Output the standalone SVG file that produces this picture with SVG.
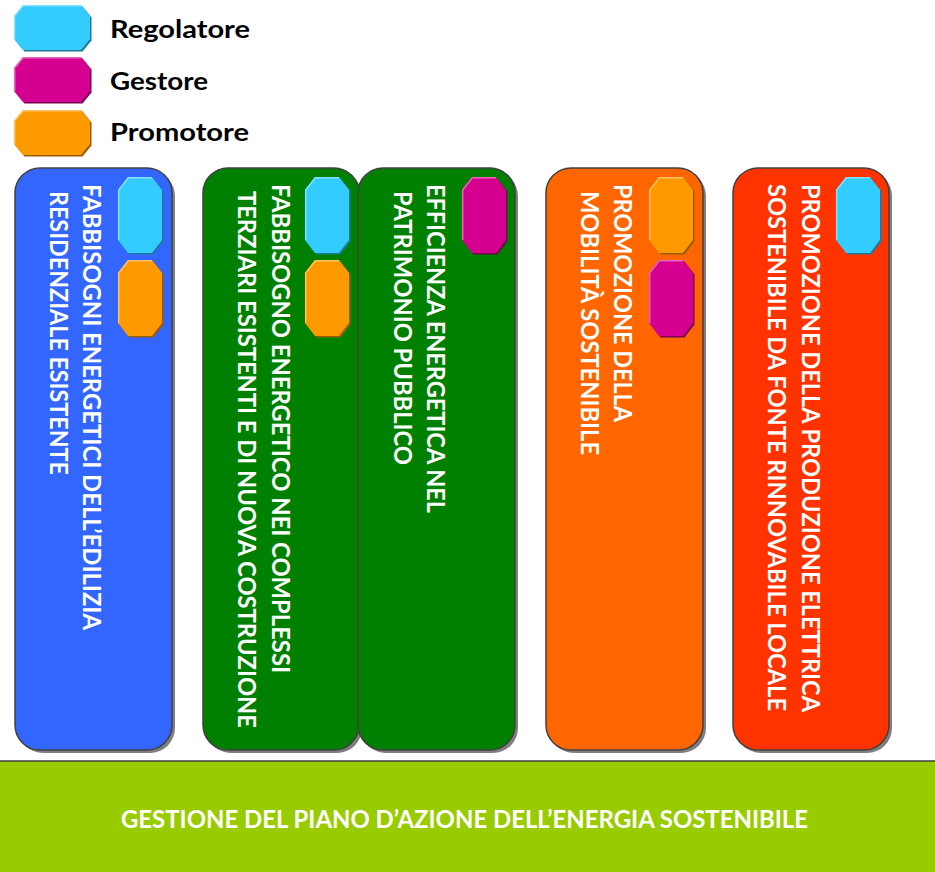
<svg xmlns="http://www.w3.org/2000/svg" xmlns:xlink="http://www.w3.org/1999/xlink" width="935" height="872" viewBox="0 0 935 872">
<style>
.card{stroke:#404040;stroke-width:1.5}
.shadow{fill:#7f7f7f}
.ct{font-family:Lato,"Open Sans","Liberation Sans",sans-serif;font-weight:bold;font-size:25px;fill:#ffffff}
.lg{font-family:Lato,"Open Sans","Liberation Sans",sans-serif;font-weight:bold;font-size:25px;fill:#000000}
.bt{font-family:Lato,"Open Sans","Liberation Sans",sans-serif;font-weight:bold;font-size:25px;fill:#ffffff}
</style>
<defs>
<polygon id="ov" points="10,0 34,0 44,13 44,63 34,76 10,76 0,63 0,13"/>
<polyline id="ovh" points="0.7,63 0.7,13 10.3,0.7 34,0.7" fill="none" stroke-width="1.5"/>
<polygon id="oh" points="9,0 67,0 76,11 76,34 67,45 9,45 0,34 0,11"/>
<polyline id="ohh" points="0.7,34 0.7,11 9.3,0.7 67,0.7" fill="none" stroke-width="1.5"/>
<g id="v-cyan"><use xlink:href="#ov" x="1.5" y="1.5" fill="#1f7a99"/><use xlink:href="#ov" fill="#33ccff"/><use xlink:href="#ovh" stroke="#85e0ff"/></g>
<g id="v-mag"><use xlink:href="#ov" x="1.5" y="1.5" fill="#7a0054"/><use xlink:href="#ov" fill="#d5008f"/><use xlink:href="#ovh" stroke="#e866bc"/></g>
<g id="v-ora"><use xlink:href="#ov" x="1.5" y="1.5" fill="#995c00"/><use xlink:href="#ov" fill="#ff9900"/><use xlink:href="#ovh" stroke="#ffc266"/></g>
<g id="h-cyan"><use xlink:href="#oh" x="1.5" y="1.5" fill="#1f7a99"/><use xlink:href="#oh" fill="#33ccff"/><use xlink:href="#ohh" stroke="#85e0ff"/></g>
<g id="h-mag"><use xlink:href="#oh" x="1.5" y="1.5" fill="#7a0054"/><use xlink:href="#oh" fill="#d5008f"/><use xlink:href="#ohh" stroke="#e866bc"/></g>
<g id="h-ora"><use xlink:href="#oh" x="1.5" y="1.5" fill="#995c00"/><use xlink:href="#oh" fill="#ff9900"/><use xlink:href="#ohh" stroke="#ffc266"/></g>
</defs>
<rect width="935" height="872" fill="#ffffff"/>

<g id="legend">
<g id="legend-regolatore"><use xlink:href="#h-cyan" x="14" y="5"/><text class="lg" x="110" y="38" textLength="140" lengthAdjust="spacingAndGlyphs">Regolatore</text></g>
<g id="legend-gestore"><use xlink:href="#h-mag" x="14" y="57"/><text class="lg" x="110" y="90" textLength="98" lengthAdjust="spacingAndGlyphs">Gestore</text></g>
<g id="legend-promotore"><use xlink:href="#h-ora" x="14" y="110"/><text class="lg" x="110" y="141" textLength="139" lengthAdjust="spacingAndGlyphs">Promotore</text></g>
</g>

<g id="card-residenziale">
<rect class="shadow" x="18" y="171" width="157" height="582" rx="25"/>
<rect class="card" x="15" y="168" width="157" height="582" rx="25" fill="#3366ff"/>
<text class="ct" transform="translate(83,184) rotate(90)" textLength="446" lengthAdjust="spacingAndGlyphs">FABBISOGNI ENERGETICI DELL’EDILIZIA</text>
<text class="ct" transform="translate(50,191) rotate(90)" textLength="284" lengthAdjust="spacingAndGlyphs">RESIDENZIALE ESISTENTE</text>
<use xlink:href="#v-cyan" x="118" y="177"/>
<use xlink:href="#v-ora" x="118" y="260"/>
</g>

<g id="card-terziari">
<rect class="shadow" x="206" y="171" width="156" height="582" rx="25"/>
<rect class="card" x="203" y="168" width="156" height="582" rx="25" fill="#008000"/>
<text class="ct" transform="translate(272,184) rotate(90)" textLength="489" lengthAdjust="spacingAndGlyphs">FABBISOGNO ENERGETICO NEI COMPLESSI</text>
<text class="ct" transform="translate(238,191) rotate(90)" textLength="537" lengthAdjust="spacingAndGlyphs">TERZIARI ESISTENTI E DI NUOVA COSTRUZIONE</text>
<use xlink:href="#v-cyan" x="305" y="177"/>
<use xlink:href="#v-ora" x="305" y="260"/>
</g>

<g id="card-patrimonio">
<rect class="shadow" x="361" y="171" width="157" height="582" rx="25"/>
<rect class="card" x="358" y="168" width="157" height="582" rx="25" fill="#008000"/>
<text class="ct" transform="translate(427,184) rotate(90)" textLength="329" lengthAdjust="spacingAndGlyphs">EFFICIENZA ENERGETICA NEL</text>
<text class="ct" transform="translate(394,191) rotate(90)" textLength="274" lengthAdjust="spacingAndGlyphs">PATRIMONIO PUBBLICO</text>
<use xlink:href="#v-mag" x="462" y="177"/>
</g>

<g id="card-mobilita">
<rect class="shadow" x="549" y="171" width="157" height="582" rx="25"/>
<rect class="card" x="546" y="168" width="157" height="582" rx="25" fill="#ff6600"/>
<text class="ct" transform="translate(614,184) rotate(90)" textLength="238" lengthAdjust="spacingAndGlyphs">PROMOZIONE DELLA</text>
<text class="ct" transform="translate(581,191) rotate(90)" textLength="264" lengthAdjust="spacingAndGlyphs">MOBILITÀ SOSTENIBILE</text>
<use xlink:href="#v-ora" x="649" y="177"/>
<use xlink:href="#v-mag" x="649" y="260"/>
</g>

<g id="card-rinnovabile">
<rect class="shadow" x="736" y="171" width="156" height="582" rx="25"/>
<rect class="card" x="733" y="168" width="156" height="582" rx="25" fill="#ff3300"/>
<text class="ct" transform="translate(802,184) rotate(90)" textLength="528" lengthAdjust="spacingAndGlyphs">PROMOZIONE DELLA PRODUZIONE ELETTRICA</text>
<text class="ct" transform="translate(768,184) rotate(90)" textLength="527" lengthAdjust="spacingAndGlyphs">SOSTENIBILE DA FONTE RINNOVABILE LOCALE</text>
<use xlink:href="#v-cyan" x="836" y="177"/>
</g>

<g id="base-gestione">
<rect x="-2" y="761" width="939" height="113" fill="#99cc00" stroke="#404040" stroke-width="1.5"/>
<text class="bt" x="121" y="828" textLength="687" lengthAdjust="spacingAndGlyphs">GESTIONE DEL PIANO D’AZIONE DELL’ENERGIA SOSTENIBILE</text>
</g>

<g id="connectors"/>
</svg>
